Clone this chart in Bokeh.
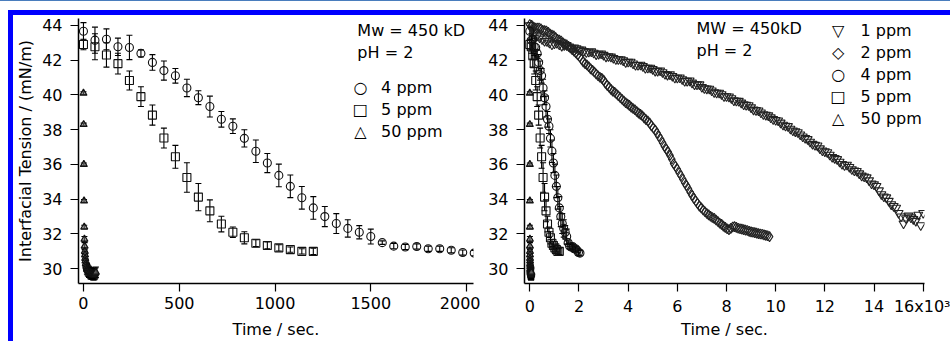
from bokeh.plotting import figure
from bokeh.models import ColumnDataSource, Whisker, TeeHead, FixedTicker, Label, Range1d, Div
from bokeh.layouts import row, column
from bokeh.embed import file_html
from bokeh.resources import INLINE

# ---------------- data ----------------
# 4 ppm (seconds)
t4 = [0, 60, 120, 180, 240, 300, 360, 420, 480, 540, 600, 660, 720, 780, 840, 900, 960, 1020,
      1080, 1140, 1200, 1260, 1320, 1380, 1440, 1500, 1560, 1620, 1680, 1740, 1800, 1860, 1920,
      1980, 2040]
v4 = [43.66, 43.15, 43.2, 42.77, 42.73, 42.39, 41.87, 41.4, 41.1, 40.4, 39.84, 39.33, 38.6, 38.2,
      37.5, 36.76, 36.08, 35.37, 34.74, 34.08, 33.5, 33.0, 32.6, 32.32, 32.1, 31.85, 31.5, 31.3,
      31.25, 31.28, 31.15, 31.15, 31.06, 30.93, 30.9]
e4 = [0.5, 0.75, 0.6, 0.5, 0.7, 0.2, 0.45, 0.55, 0.42, 0.5, 0.4, 0.6, 0.45, 0.42, 0.5, 0.65, 0.55,
      0.65, 0.65, 0.65, 0.65, 0.58, 0.57, 0.5, 0.38, 0.43, 0.1, 0.15, 0.15, 0.15, 0.15, 0.15, 0.15,
      0.15, 0.15]
# 5 ppm (seconds)
t5 = [0, 60, 120, 180, 240, 300, 360, 420, 480, 540, 600, 660, 720, 780, 840, 900, 960, 1020,
      1080, 1140, 1200]
v5 = [42.9, 42.77, 42.3, 41.8, 40.83, 39.9, 38.84, 37.52, 36.44, 35.25, 34.12, 33.33, 32.57, 32.1,
      31.78, 31.47, 31.34, 31.2, 31.1, 31.0, 31.0]
e5 = [0.3, 0.75, 0.7, 0.6, 0.55, 0.57, 0.58, 0.57, 0.66, 0.85, 0.78, 0.63, 0.45, 0.3, 0.35, 0.2,
      0.2, 0.18, 0.15, 0.15, 0.18]
# 50 ppm (seconds)
t50 = [0, 1, 2, 3, 4, 5, 6, 7, 8, 9, 10, 12, 14, 16, 18, 20, 23, 26, 29, 32, 35, 38, 41, 44, 47,
       50, 53, 56, 59, 62, 65]
v50 = [40.1, 38.3, 36.0, 33.9, 32.4, 31.7, 31.3, 31.0, 30.8, 30.6, 30.45, 30.3, 30.2, 30.1, 30.0,
       29.95, 29.9, 29.85, 29.8, 29.8, 29.75, 29.7, 29.75, 29.7, 29.7, 29.65, 29.7, 29.65, 29.7,
       29.75, 29.8]
e50 = [0.08, 0.08, 0.08, 0.08, 0.1, 0.15, 0.2, 0.2, 0.2, 0.25, 0.25, 0.25, 0.25, 0.25, 0.3, 0.3,
       0.3, 0.3, 0.3, 0.3, 0.3, 0.3, 0.3, 0.3, 0.3, 0.3, 0.3, 0.3, 0.3, 0.3, 0.3]
# 1 ppm (10^3 s)
t1 = [0.0, 0.2, 0.4, 0.6, 0.8, 1.0, 1.2, 1.4, 1.6, 1.8, 2.0, 2.2, 2.4, 2.6, 2.8, 3.0, 3.2, 3.4,
      3.6, 3.8, 4.0, 4.2, 4.4, 4.6, 4.8, 5.0, 5.2, 5.4, 5.6, 5.8, 6.0, 6.2, 6.4, 6.6, 6.8, 7.0,
      7.2, 7.4, 7.6, 7.8, 8.0, 8.2, 8.4, 8.6, 8.8, 9.0, 9.2, 9.4, 9.6, 9.8, 10.0, 10.2, 10.4, 10.6,
      10.8, 11.0, 11.2, 11.4, 11.6, 11.8, 12.0, 12.2, 12.4, 12.6, 12.8, 13.0, 13.2, 13.4, 13.6,
      13.8, 14.0, 14.2, 14.4, 14.6, 14.8, 15.0, 15.2, 15.3, 15.4, 15.6, 15.8, 15.9, 16.0]
v1 = [44.0, 43.6, 43.3, 43.1, 43.0, 42.95, 42.9, 42.85, 42.78, 42.72, 42.6, 42.52, 42.48, 42.42,
      42.36, 42.3, 42.22, 42.12, 42.05, 41.98, 41.9, 41.8, 41.72, 41.65, 41.56, 41.48, 41.38, 41.3,
      41.15, 41.08, 40.98, 40.9, 40.8, 40.7, 40.6, 40.45, 40.36, 40.25, 40.12, 40.03, 39.92, 39.8,
      39.66, 39.55, 39.42, 39.28, 39.12, 38.98, 38.85, 38.7, 38.55, 38.4, 38.22, 38.05, 37.9, 37.72,
      37.52, 37.3, 37.12, 36.92, 36.75, 36.55, 36.36, 36.15, 35.95, 35.85, 35.65, 35.48, 35.3,
      35.08, 34.85, 34.5, 34.15, 33.9, 33.6, 33.2, 32.6, 32.9, 33.05, 32.85, 33.1, 32.5, 33.2]
# 1 ppm, interleaved readings (10^3 s)
t1b = [0.1, 0.3, 0.5, 0.7, 0.9, 1.1, 1.3, 1.5, 1.7, 1.9, 2.1, 2.3, 2.5, 2.7, 2.9, 3.1, 3.3, 3.5,
       3.7, 3.9, 4.1, 4.3, 4.5, 4.7, 4.9, 5.1, 5.3, 5.5, 5.7, 5.9, 6.1, 6.3, 6.5, 6.7, 6.9, 7.1,
       7.3, 7.5, 7.7, 7.9, 8.1, 8.3, 8.5, 8.7, 8.9, 9.1, 9.3, 9.5, 9.7, 9.9, 10.1, 10.3, 10.5,
       10.7, 10.9, 11.1, 11.3, 11.5, 11.7, 11.9, 12.1, 12.3, 12.5, 12.7, 12.9, 13.1, 13.3, 13.5,
       13.7, 13.9, 14.1, 14.3, 14.5, 14.7, 14.9, 15.1, 15.5, 15.7]
v1b = [43.75, 43.4, 43.2, 43.08, 42.9, 42.98, 42.82, 42.86, 42.7, 42.68, 42.6, 42.45, 42.5, 42.33,
       42.38, 42.2, 42.2, 42.05, 42.05, 41.88, 41.9, 41.72, 41.73, 41.55, 41.56, 41.38, 41.4, 41.2,
       41.18, 40.98, 41.0, 40.8, 40.82, 40.6, 40.6, 40.38, 40.35, 40.15, 40.12, 39.92, 39.9, 39.68,
       39.65, 39.45, 39.4, 39.15, 39.1, 38.88, 38.82, 38.6, 38.52, 38.28, 38.2, 37.95, 37.85, 37.6,
       37.45, 37.18, 37.08, 36.8, 36.7, 36.42, 36.3, 36.02, 35.98, 35.72, 35.62, 35.35, 35.25,
       34.9, 34.75, 34.28, 34.1, 33.7, 33.5, 33.0, 32.95, 32.75]
# 2 ppm (10^3 s)
t2 = [0.0, 0.15, 0.3, 0.45, 0.6, 0.75, 0.9, 1.05, 1.2, 1.35, 1.5, 1.65, 1.8, 1.95, 2.1, 2.25, 2.4,
      2.55, 2.7, 2.85, 3.0, 3.15, 3.3, 3.45, 3.6, 3.75, 3.9, 4.05, 4.2, 4.35, 4.5, 4.65, 4.8, 4.95,
      5.1, 5.25, 5.4, 5.55, 5.7, 5.85, 6.0, 6.15, 6.3, 6.45, 6.6, 6.75, 6.9, 7.05, 7.2, 7.35, 7.5,
      7.65, 7.8, 7.95, 8.1, 8.25, 8.4, 8.55, 8.7, 8.85, 9.0, 9.15, 9.3, 9.45, 9.6, 9.75]
v2 = [44.05, 43.9, 43.85, 43.8, 43.7, 43.6, 43.45, 43.3, 43.15, 43.0, 42.88, 42.7, 42.52, 42.3,
      42.05, 41.8, 41.62, 41.42, 41.2, 41.02, 40.85, 40.55, 40.32, 40.15, 39.95, 39.75, 39.55,
      39.4, 39.22, 39.05, 38.88, 38.68, 38.5, 38.22, 37.98, 37.62, 37.25, 36.88, 36.52, 36.05,
      35.72, 35.35, 34.95, 34.6, 34.22, 33.9, 33.6, 33.38, 33.18, 33.02, 32.9, 32.72, 32.55, 32.38,
      32.25, 32.4, 32.38, 32.3, 32.25, 32.2, 32.12, 32.08, 32.02, 31.98, 31.92, 31.85]
# 2 ppm, interleaved readings (10^3 s)
t2b = [0.075, 0.225, 0.375, 0.525, 0.675, 0.825, 0.975, 1.125, 1.275, 1.425, 1.575, 1.725, 1.875,
       2.025, 2.175, 2.325, 2.475, 2.625, 2.775, 2.925, 3.075, 3.225, 3.375, 3.525, 3.675, 3.825,
       3.975, 4.125, 4.275, 4.425, 4.575, 4.725, 4.875, 5.025, 5.175, 5.325, 5.475, 5.625, 5.775,
       5.925, 6.075, 6.225, 6.375, 6.525, 6.675, 6.825, 6.975, 7.125, 7.275, 7.425, 7.575, 7.725,
       7.875, 8.025, 8.175, 8.325, 8.475, 8.625, 8.775, 8.925, 9.075, 9.225, 9.375, 9.525, 9.675]
v2b = [44.0, 43.85, 43.85, 43.72, 43.68, 43.5, 43.4, 43.2, 43.1, 42.92, 42.8, 42.6, 42.42, 42.2,
       41.9, 41.72, 41.5, 41.32, 41.1, 40.95, 40.68, 40.45, 40.22, 40.05, 39.85, 39.65, 39.48,
       39.3, 39.15, 38.95, 38.8, 38.58, 38.38, 38.1, 37.8, 37.45, 37.05, 36.72, 36.3, 35.9, 35.52,
       35.15, 34.78, 34.4, 34.05, 33.75, 33.5, 33.28, 33.1, 32.95, 32.8, 32.62, 32.45, 32.3, 32.32,
       32.42, 32.33, 32.28, 32.22, 32.15, 32.1, 32.05, 32.0, 31.95, 31.9]

left_x_ticks = [0, 500, 1000, 1500, 2000]
right_x_ticks = [0, 2, 4, 6, 8, 10, 12, 14, 16]
right_x_labels = {16: "16x10\u00b3"}
y_ticks = [30, 32, 34, 36, 38, 40, 42, 44]

FONT = "DejaVu Sans"
FS = "16px"
INK = "#111111"


def make_src(t, v, e, scale=1.0):
    return ColumnDataSource(dict(
        x=[a * scale for a in t], y=v,
        lo=[a - b for a, b in zip(v, e)], hi=[a + b for a, b in zip(v, e)]))


def add_err(p, src):
    w = Whisker(source=src, base="x", lower="lo", upper="hi", line_color="black", line_width=1.1,
                lower_head=TeeHead(size=6, line_color="black", line_width=1.1),
                upper_head=TeeHead(size=6, line_color="black", line_width=1.1))
    p.add_layout(w)


def style(p, xticks, title_standoff, overrides=None):
    p.xaxis.ticker = FixedTicker(ticks=xticks)
    p.yaxis.ticker = FixedTicker(ticks=y_ticks)
    if overrides:
        p.xaxis.major_label_overrides = overrides
    for ax in (p.xaxis[0], p.yaxis[0]):
        ax.axis_line_color = "black"
        ax.axis_line_width = 1.5
        ax.major_tick_line_color = "black"
        ax.major_tick_line_width = 1.2
        ax.major_tick_out = 8
        ax.major_tick_in = 0
        ax.minor_tick_line_color = None
        ax.major_label_text_font = FONT
        ax.major_label_text_font_size = FS
        ax.major_label_text_color = "black"
    p.xaxis.major_label_standoff = 5
    p.yaxis.major_label_standoff = 8
    p.xaxis.axis_label = "Time / sec."
    p.xaxis.axis_label_text_font = FONT
    p.xaxis.axis_label_text_font_size = FS
    p.xaxis.axis_label_text_font_style = "normal"
    p.xaxis.axis_label_text_color = "black"
    p.xaxis.axis_label_standoff = title_standoff
    p.xgrid.visible = False
    p.ygrid.visible = False
    p.outline_line_color = None


def label(p, x, y, text, align="left", lh=1.18):
    p.add_layout(Label(x=x, y=y, text=text, text_font=FONT, text_font_size=FS,
                       text_color="black", text_align=align, text_baseline="top",
                       text_line_height=lh))


H = 326
y_range = (29.15, 44.397)

# ---------------- left panel ----------------
p1 = figure(width=467, height=H, output_backend="svg", toolbar_location=None,
            x_range=Range1d(-25.9, 2036.3), y_range=Range1d(*y_range),
            min_border_left=62, min_border_right=7, min_border_top=3, min_border_bottom=54,
            background_fill_color="white", border_fill_color="white")
style(p1, left_x_ticks, 8)
p1.yaxis.axis_label = "Interfacial Tension / (mN/m)"
p1.yaxis.axis_label_text_font = FONT
p1.yaxis.axis_label_text_font_size = FS
p1.yaxis.axis_label_text_font_style = "normal"
p1.yaxis.axis_label_text_color = "black"
p1.yaxis.axis_label_standoff = 4

s4 = make_src(t4, v4, e4)
s5 = make_src(t5, v5, e5)
s50 = make_src(t50, v50, e50)
for s in (s4, s5, s50):
    add_err(p1, s)
p1.scatter("x", "y", source=s4, marker="circle", size=8, line_color=INK, line_width=1.1, fill_alpha=0)
p1.scatter("x", "y", source=s5, marker="square", size=8, line_color=INK, line_width=1.1, fill_alpha=0)
p1.scatter("x", "y", source=s50, marker="triangle", size=7, line_color=INK, line_width=1.2,
           fill_color="#666666", fill_alpha=0.6)

label(p1, 1430, 44.28, "Mw = 450 kD\npH = 2", lh=1.2)
label(p1, 1446, 41.0, "\u25cb\n\u25a1\n\u25b3", align="center")
label(p1, 1554, 41.0, "4 ppm\n5 ppm\n50 ppm")

# ---------------- right panel ----------------
p2 = figure(width=470, height=H, output_backend="svg", toolbar_location=None,
            x_range=Range1d(-0.2156, 16.053), y_range=Range1d(*y_range),
            min_border_left=44, min_border_right=26, min_border_top=3, min_border_bottom=54,
            background_fill_color="white", border_fill_color="white")
style(p2, right_x_ticks, 1, right_x_labels)

for tt, vv in ((t1, v1), (t1b, v1b)):
    p2.scatter(x=tt, y=vv, marker="inverted_triangle", size=9, line_color="#222222",
               line_width=1.1, fill_alpha=0)
for tt, vv in ((t2, v2), (t2b, v2b)):
    p2.scatter(x=tt, y=vv, marker="diamond", size=10, line_color="#222222",
               line_width=1.1, fill_alpha=0)

q4 = make_src(t4, v4, e4, 0.001)
q5 = make_src(t5, v5, e5, 0.001)
q50 = make_src(t50, v50, e50, 0.001)
for s in (q4, q5, q50):
    add_err(p2, s)
p2.scatter("x", "y", source=q4, marker="circle", size=8, line_color=INK, line_width=1.1, fill_alpha=0)
p2.scatter("x", "y", source=q5, marker="square", size=8, line_color=INK, line_width=1.1, fill_alpha=0)
p2.scatter("x", "y", source=q50, marker="triangle", size=7, line_color=INK, line_width=1.2,
           fill_color="#666666", fill_alpha=0.6)

label(p2, 6.78, 44.36, "MW = 450kD\npH = 2", lh=1.15)
label(p2, 12.54, 44.28, "\u25bd\n\u25c7\n\u25cb\n\u25a1\n\u25b3", align="center", lh=1.16)
label(p2, 13.45, 44.28, "1 ppm\n2 ppm\n4 ppm\n5 ppm\n50 ppm", lh=1.16)

# ---------------- frame bars & layout ----------------
top_line = Div(text="", width=950, height=1, margin=0,
               styles={"background-color": "#4a7dbd"})
top_bar = Div(text="", width=942, height=5, margin=(9, 0, 0, 8),
              styles={"background-color": "#0000ff"})
left_bar = Div(text="", width=5, height=H, margin=(0, 0, 0, 8),
               styles={"background-color": "#0000ff"})

layout = column(top_line, top_bar, row(left_bar, p1, p2, spacing=0), spacing=0)

with open("out.html", "w") as f:
    f.write(file_html(layout, INLINE))
